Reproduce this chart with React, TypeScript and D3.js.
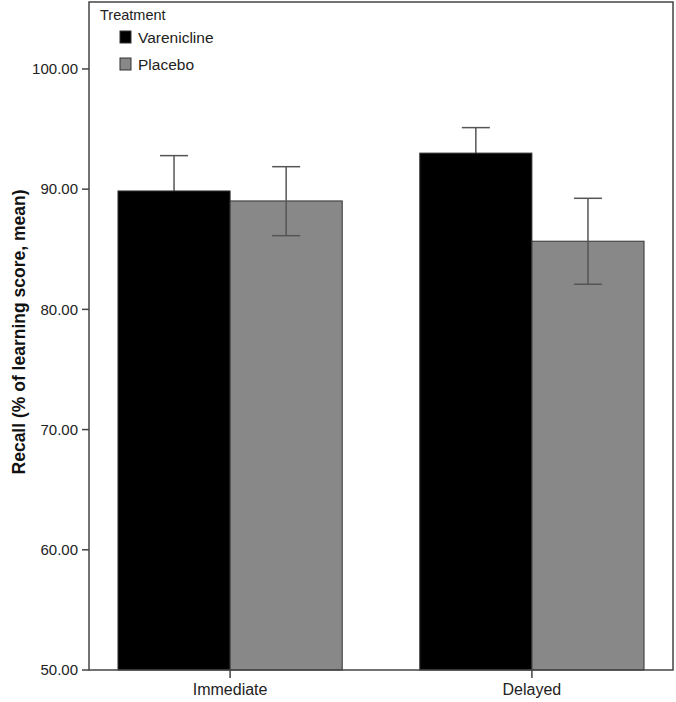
import React from "react";
import * as d3 from "d3";

const categories = ["Immediate", "Delayed"];
const seriesNames = ["Varenicline", "Placebo"];
const seriesColors = ["#000000", "#888888"];
const means = [
  [89.85, 93.0],
  [89.02, 85.67],
];
const errLow = [
  [86.9, 90.86],
  [86.13, 82.09],
];
const errHigh = [
  [92.79, 95.12],
  [91.87, 89.24],
];
const yTicks = [50, 60, 70, 80, 90, 100];

const W = 676;
const H = 702;
const left = 89;
const right = 673;
const top = 2;
const bottom = 670;

export default function App() {
  const y = d3.scaleLinear().domain([50, 105.57]).range([bottom, top]);
  const x0 = d3
    .scaleBand()
    .domain(categories)
    .range([left, right])
    .paddingInner(0.257)
    .paddingOuter(0.096);
  const x1 = d3.scaleBand().domain(seriesNames).range([0, x0.bandwidth()]);
  const font = "Arial, 'Liberation Sans', Helvetica, sans-serif";
  const axisColor = "#444";

  const errBar = (ci: number, si: number) => {
    const c = categories[ci];
    const s = seriesNames[si];
    const cx = (x0(c) as number) + (x1(s) as number) + x1.bandwidth() / 2;
    const y1 = y(errHigh[si][ci]);
    const y2 = y(errLow[si][ci]);
    const hw = 14;
    return (
      <g key={"e" + c + s} stroke="#555" strokeWidth={1.5}>
        <line x1={cx} x2={cx} y1={y1} y2={y2} />
        <line x1={cx - hw} x2={cx + hw} y1={y1} y2={y1} />
        <line x1={cx - hw} x2={cx + hw} y1={y2} y2={y2} />
      </g>
    );
  };

  return (
    <svg
      width={W}
      height={H}
      style={{ position: "absolute", left: 0, top: 0, background: "#fff" }}
      fontFamily={font}
    >
      {/* varenicline error bars sit behind their bars */}
      {categories.map((c, ci) => errBar(ci, 0))}
      {/* bars */}
      {categories.map((c, ci) =>
        seriesNames.map((s, si) => {
          const bx = (x0(c) as number) + (x1(s) as number);
          const by = y(means[si][ci]);
          return (
            <rect
              key={c + s}
              x={bx}
              y={by}
              width={x1.bandwidth()}
              height={bottom - by}
              fill={seriesColors[si]}
              stroke="#333"
              strokeWidth={1}
            />
          );
        })
      )}
      {categories.map((c, ci) => errBar(ci, 1))}
      {/* frame */}
      <rect
        x={left}
        y={top}
        width={right - left}
        height={bottom - top}
        fill="none"
        stroke={axisColor}
        strokeWidth={1.5}
      />
      {/* y ticks */}
      {yTicks.map((t) => (
        <g key={t}>
          <line x1={left - 7} x2={left} y1={y(t)} y2={y(t)} stroke={axisColor} strokeWidth={1.5} />
          <text
            x={left - 11}
            y={y(t)}
            dy="0.35em"
            textAnchor="end"
            fontSize={15}
            fill="#222"
          >
            {d3.format(".2f")(t)}
          </text>
        </g>
      ))}
      {/* x ticks */}
      {categories.map((c) => {
        const cx = (x0(c) as number) + x0.bandwidth() / 2;
        return (
          <g key={c}>
            <line x1={cx} x2={cx} y1={bottom} y2={bottom + 8} stroke={axisColor} strokeWidth={1.5} />
            <text x={cx} y={695} textAnchor="middle" fontSize={16} fill="#222">
              {c}
            </text>
          </g>
        );
      })}
      {/* y axis title */}
      <text
        transform="translate(25, 332) rotate(-90)"
        textAnchor="middle"
        fontSize={17.5}
        fontWeight="bold"
        fill="#111"
      >
        Recall (% of learning score, mean)
      </text>
      {/* legend */}
      <text x={100} y={20} fontSize={14.5} fill="#222">
        Treatment
      </text>
      {seriesNames.map((s, i) => (
        <g key={s}>
          <rect
            x={120}
            y={31 + i * 27}
            width={11}
            height={12}
            fill={seriesColors[i]}
            stroke="#333"
            strokeWidth={1}
          />
          <text x={138} y={43 + i * 27} fontSize={15.5} fill="#222">
            {s}
          </text>
        </g>
      ))}
    </svg>
  );
}
